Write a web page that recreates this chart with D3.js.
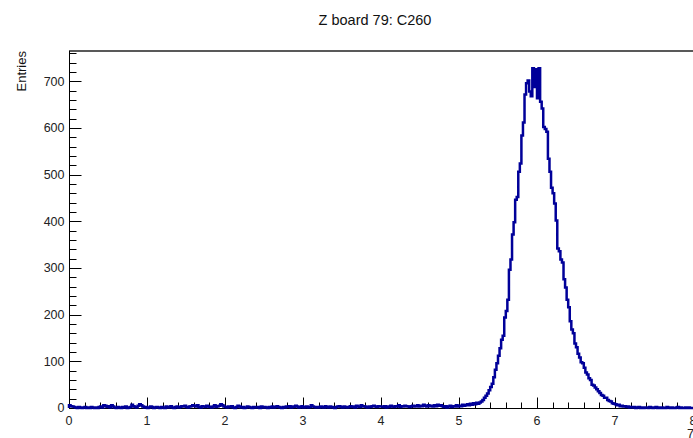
<!DOCTYPE html>
<html lang="en">
<head>
	<meta charset="utf-8">
	<title>Z board 79: C260</title>
	<script src="https://d3js.org/d3.v7.min.js"></script>
	<style>
		body { margin: 0; background: #fff; }
		svg { display: block; font-family: "Liberation Sans", Arial, Helvetica, sans-serif; }
	</style>
</head>
<body>
	<svg width="693" height="438"></svg>
	<script type="text/javascript">

		var title = "Z board 79: C260";
		var yTitle = "Entries";
		var xTitle = "7";

		var xDomain = [0, 8];
		var yDomain = [0, 765];
		var binWidth = 0.02;
		var xTicks = [0, 1, 2, 3, 4, 5, 6, 7, 8];
		var yTicks = [0, 100, 200, 300, 400, 500, 600, 700];

		// entries per bin, 0.02 wide, starting at 0
		var counts = [
			6,4,3,2,1,0,2,1,0,1, 2,0,1,0,2,1,0,1,0,2,
			3,1,6,5,2,4,1,6,3,1, 0,2,1,0,2,1,3,0,1,2,
			7,4,2,1,5,8,6,3,1,2, 0,1,3,2,0,1,2,1,0,2,
			1,0,3,1,2,4,1,0,2,3, 1,2,4,3,5,2,1,3,4,6,
			5,3,6,2,1,4,3,2,5,3, 2,1,3,6,2,4,5,8,6,3,
			2,1,3,2,4,1,0,2,5,3, 1,2,0,1,3,2,1,0,2,1,
			1,2,0,3,1,2,1,0,2,1, 3,1,2,4,2,1,0,2,1,3,
			2,4,1,3,2,5,3,1,2,4, 1,2,3,1,2,6,3,2,1,2,
			1,3,2,1,4,2,1,3,2,1, 0,2,3,4,2,1,3,2,1,2,
			4,2,3,1,5,3,2,6,3,4, 2,1,3,2,4,5,3,2,4,3,
			3,2,4,1,3,2,5,3,2,4, 3,6,2,4,3,5,4,3,2,4,
			5,3,4,6,3,5,4,7,5,3, 6,4,5,3,6,4,7,5,6,4,
			// 4.8 - 7.4
			2,4,1,3,5,2,4,3,6,3,
			5,4,7,5,6,8,6,9,7,10,
			8,11,9,12,14,17,22,26,31,38,
			45,52,66,82,96,112,128,146,155,194,
			208,232,296,318,372,398,446,452,506,524,
			584,612,672,696,702,678,668,728,688,726,
			664,728,656,642,602,598,592,534,506,472,
			460,438,402,342,336,318,312,276,258,232,
			216,186,168,160,138,130,116,108,98,96,
			86,76,72,64,60,50,48,44,40,36,
			32,28,26,22,22,17,15,14,10,9,
			8,6,7,4,5,3,4,2,3,1,
			2,1,2,0,1,2,0,1,0,1,
			// 7.4 - 8.0
			1,0,2,1,0,1,2,0,1,0, 1,0,0,2,1,0,1,0,0,1, 2,0,1,0,0,1,0,1,0,0
		];

		var svg = d3.select("svg"),
			width = +svg.attr("width"),
			height = +svg.attr("height");

		var padLeft = 69, padTop = 51, padBottom = 408, padRight = 693;

		var x = d3.scaleLinear().domain(xDomain).range([padLeft, padRight]);
		var y = d3.scaleLinear().domain(yDomain).range([padBottom, padTop]);

		svg.append("rect").attr("width", width).attr("height", height).attr("fill", "#fff");

		// frame top
		svg.append("line")
			.attr("x1", padLeft).attr("x2", padRight + 10)
			.attr("y1", padTop).attr("y2", padTop)
			.attr("stroke", "#222").attr("stroke-width", 1.6);

		// x axis, ticks pointing up
		var xMinor = d3.range(0, 8.001, 0.2);
		var xAxis = svg.append("g").attr("transform", "translate(0," + (padBottom + 0.5) + ")");
		xAxis.append("line").attr("x1", padLeft).attr("x2", padRight + 10).attr("stroke", "#000");
		xAxis.selectAll(".minor").data(xMinor).enter().append("line")
			.attr("x1", function(d) { return Math.round(x(d)) + 0.5; })
			.attr("x2", function(d) { return Math.round(x(d)) + 0.5; })
			.attr("y1", 0)
			.attr("y2", function(d) { return Math.abs(d - Math.round(d)) < 1e-6 ? -11 : -6; })
			.attr("stroke", "#000");
		xAxis.selectAll("text").data(xTicks).enter().append("text")
			.attr("x", function(d) { return x(d); })
			.attr("y", 16)
			.attr("text-anchor", "middle")
			.attr("font-size", "12.5px")
			.attr("fill", "#222")
			.text(function(d) { return d; });

		// y axis, ticks pointing right
		var yMinor = d3.range(0, 766, 20);
		var yAxis = svg.append("g").attr("transform", "translate(" + (padLeft + 0.5) + ",0)");
		yAxis.append("line").attr("y1", padTop).attr("y2", padBottom).attr("stroke", "#000");
		yAxis.selectAll(".minor").data(yMinor).enter().append("line")
			.attr("y1", function(d) { return Math.round(y(d)) + 0.5; })
			.attr("y2", function(d) { return Math.round(y(d)) + 0.5; })
			.attr("x1", 0)
			.attr("x2", function(d) { return d % 100 === 0 ? 12 : 7; })
			.attr("stroke", "#000");
		yAxis.selectAll("text").data(yTicks).enter().append("text")
			.attr("x", -5)
			.attr("y", function(d) { return y(d); })
			.attr("dy", "0.35em")
			.attr("text-anchor", "end")
			.attr("font-size", "12.5px")
			.attr("fill", "#222")
			.text(function(d) { return d; });

		// histogram outline
		var pts = [[x(0), y(0)]];
		counts.forEach(function(c, i) {
			pts.push([x(i * binWidth), y(c)]);
			pts.push([x((i + 1) * binWidth), y(c)]);
		});
		pts.push([x(counts.length * binWidth), y(0)]);

		svg.append("path")
			.attr("d", d3.line()(pts))
			.attr("fill", "none")
			.attr("stroke", "#000099")
			.attr("stroke-width", 2.5)
			.attr("stroke-linejoin", "miter");

		svg.append("text")
			.attr("x", 375).attr("y", 25)
			.attr("text-anchor", "middle")
			.attr("font-size", "14.5px")
			.attr("fill", "#111")
			.text(title);

		svg.append("text")
			.attr("transform", "translate(26," + padTop + ") rotate(-90)")
			.attr("text-anchor", "end")
			.attr("font-size", "13px")
			.attr("fill", "#111")
			.text(yTitle);

		svg.append("text")
			.attr("x", 687).attr("y", 438)
			.attr("font-size", "12.5px")
			.attr("fill", "#222")
			.text(xTitle);

	</script>
</body>
</html>
